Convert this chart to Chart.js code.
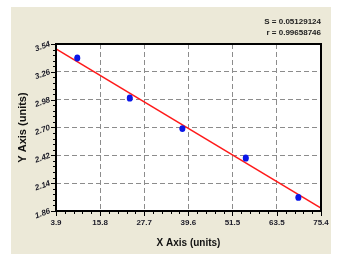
<!DOCTYPE html>
<html>
<head>
<meta charset="utf-8">
<script src="https://cdn.jsdelivr.net/npm/chart.js@4"></script>
<style>
  html, body { margin: 0; padding: 0; background: #fff; }
  #wrap { position: absolute; left: 11px; top: 7px; width: 320px; height: 247px; background: #ece9d8; }
</style>
</head>
<body>
<div id="wrap"><canvas id="fitChart" width="320" height="247"></canvas></div>
<script>
// measured points (two replicates per x)
const xValues = [9.65, 23.8, 38.0, 55.1, 69.3];
const yRep1 = [3.405, 3.002, 2.694, 2.398, 2.002];
const yRep2 = [3.393, 2.990, 2.684, 2.386, 1.992];

// fitted line end points
const fitX = [3.9, 75.4];
const fitY = [3.49, 1.89];

const xTicks = [3.9, 15.8, 27.7, 39.6, 51.5, 63.5, 75.4];
const yTicks = [1.86, 2.14, 2.42, 2.70, 2.98, 3.26, 3.54];
const statLines = ["S = 0.05129124", "r = 0.99658746"];

const pointData = xValues.map((x, i) => ({ x: x, y: yRep1[i] }))
  .concat(xValues.map((x, i) => ({ x: x, y: yRep2[i] })));
const lineData = fitX.map((x, i) => ({ x: x, y: fitY[i] }));

// frame + outward tick marks (major and 4 minor per interval)
const axisFrame = {
  id: "axisFrame",
  afterDraw(chart) {
    const { ctx, chartArea: a, scales: { x, y } } = chart;
    ctx.save();
    ctx.strokeStyle = "#000";
    ctx.lineWidth = 1;
    ctx.beginPath();
    for (let i = 0; i < xTicks.length; i++) {
      const px = Math.round(x.getPixelForValue(xTicks[i])) + 0.5;
      ctx.moveTo(px, a.bottom); ctx.lineTo(px, a.bottom + 5);
      if (i < xTicks.length - 1) {
        for (let k = 1; k < 5; k++) {
          const v = xTicks[i] + (xTicks[i + 1] - xTicks[i]) * k / 5;
          const mx = Math.round(x.getPixelForValue(v)) + 0.5;
          ctx.moveTo(mx, a.bottom); ctx.lineTo(mx, a.bottom + 3);
        }
      }
    }
    for (let i = 0; i < yTicks.length; i++) {
      const py = Math.round(y.getPixelForValue(yTicks[i])) + 0.5;
      ctx.moveTo(a.left, py); ctx.lineTo(a.left - 5, py);
      if (i < yTicks.length - 1) {
        for (let k = 1; k < 5; k++) {
          const v = yTicks[i] + (yTicks[i + 1] - yTicks[i]) * k / 5;
          const my = Math.round(y.getPixelForValue(v)) + 0.5;
          ctx.moveTo(a.left, my); ctx.lineTo(a.left - 3, my);
        }
      }
    }
    ctx.stroke();
    ctx.lineWidth = 2;
    ctx.strokeRect(a.left, a.top, a.right - a.left, a.bottom - a.top);
    ctx.restore();
  }
};

const plotBg = {
  id: "plotBg",
  beforeDraw(chart) {
    const { ctx, chartArea: a } = chart;
    ctx.save();
    ctx.fillStyle = "#fff";
    ctx.fillRect(a.left, a.top, a.right - a.left, a.bottom - a.top);
    ctx.restore();
  }
};

const gridColor = (ctx) => (ctx.index === 0 || ctx.index === 6) ? "rgba(0,0,0,0)" : "#8c8c8c";

const config = {
  type: "scatter",
  data: {
    datasets: [
      {
        data: pointData,
        backgroundColor: "#0b16e8",
        borderWidth: 0,
        pointRadius: 2.9,
        order: 1,
      },
      {
        type: "line",
        data: lineData,
        borderColor: "#ff1a1a",
        borderWidth: 1.5,
        pointRadius: 0,
        fill: false,
        order: 2,
      },
    ],
  },
  options: {
    responsive: false,
    animation: false,
    layout: { padding: { left: 0, right: 10, top: 0, bottom: 0 } },
    scales: {
      x: {
        type: "linear",
        min: 3.9,
        max: 75.4,
        afterBuildTicks: (s) => { s.ticks = xTicks.map((v) => ({ value: v })); },
        afterFit: (s) => { s.height = 43; s.paddingLeft = 0; s.paddingRight = 0; },
        grid: { color: gridColor, lineWidth: 1, drawTicks: false },
        border: { display: false, dash: [5, 3] },
        ticks: {
          padding: 7,
          maxRotation: 0,
          autoSkip: false,
          color: "#1c1c28",
          font: { family: "Liberation Sans", size: 8, weight: "bold" },
          callback: (v) => Number(v).toFixed(1),
        },
        title: {
          display: true,
          text: "X Axis (units)",
          color: "#111",
          font: { family: "Liberation Sans", size: 10, weight: "bold" },
          padding: { top: 0, bottom: 5 },
        },
      },
      y: {
        type: "linear",
        min: 1.86,
        max: 3.54,
        afterBuildTicks: (s) => { s.ticks = yTicks.map((v) => ({ value: v })); },
        afterFit: (s) => { s.width = 45; s.paddingTop = 0; s.paddingBottom = 0; },
        grid: { color: gridColor, lineWidth: 1, drawTicks: false },
        border: { display: false, dash: [5, 3] },
        ticks: {
          padding: 6,
          minRotation: 20,
          maxRotation: 20,
          autoSkip: false,
          color: "#1c1c28",
          font: { family: "Liberation Sans", size: 8, weight: "bold", style: "italic" },
          callback: (v) => Number(v).toFixed(2),
        },
        title: {
          display: true,
          text: "Y Axis (units)",
          color: "#111",
          font: { family: "Liberation Sans", size: 11, weight: "bold" },
          padding: { top: 5, bottom: 0 },
        },
      },
    },
    plugins: {
      legend: { display: false },
      tooltip: { enabled: false },
      title: {
        display: true,
        text: statLines,
        align: "end",
        color: "#222",
        font: { family: "Liberation Sans", size: 8, weight: "bold", lineHeight: 1.375 },
        padding: { top: 9, bottom: 6 },
      },
    },
  },
  plugins: [plotBg, axisFrame],
};

const ctx = document.getElementById("fitChart").getContext("2d");
const fitChart = new Chart(ctx, config);
</script>
</body>
</html>
